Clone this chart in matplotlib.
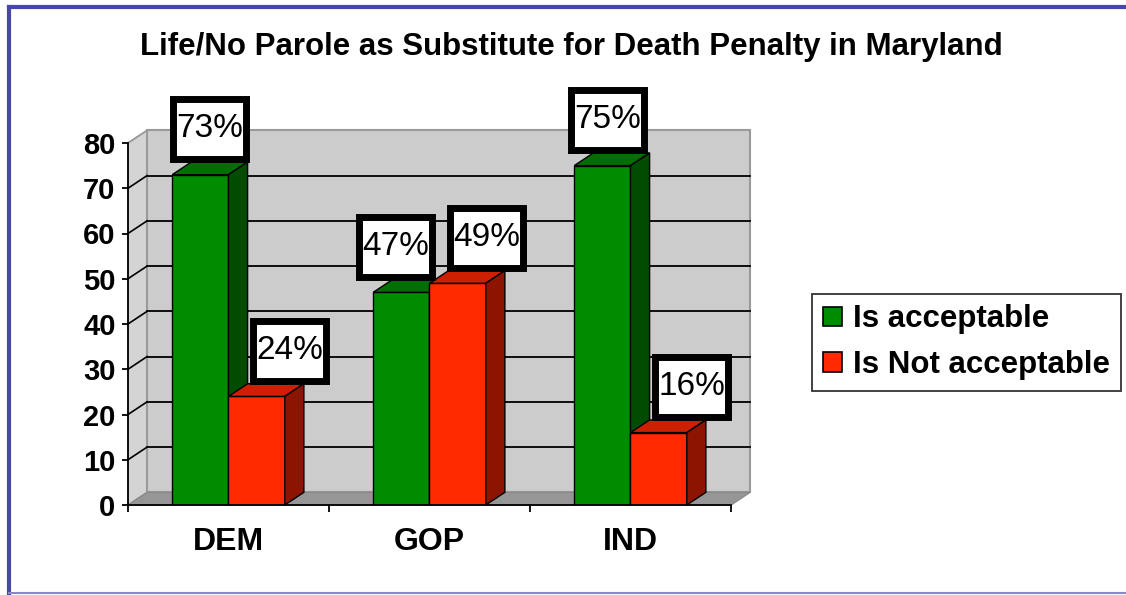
import numpy as np
import matplotlib
matplotlib.use("Agg")
import matplotlib.pyplot as plt
from matplotlib.patches import Polygon, Patch, Rectangle
from matplotlib.lines import Line2D
from matplotlib.transforms import ScaledTranslation

# data
categories = ["DEM", "GOP", "IND"]
acceptable = [73, 47, 75]
not_acceptable = [24, 49, 16]
series_names = ["Is acceptable", "Is Not acceptable"]
yticks = [0, 10, 20, 30, 40, 50, 60, 70, 80]

plt.rcParams['font.family'] = ['Liberation Sans', 'DejaVu Sans']

W, H = 1126, 595
fig = plt.figure(figsize=(W / 100, H / 100), dpi=100)
ax = fig.add_axes([128 / W, (H - 505) / H, 603 / W, 362 / H])
ax.set_xlim(-0.5, 2.5)
ax.set_ylim(0, 80)

# 3d depth offset (data units)
DX, DY = 0.095, 2.8
bw = 0.28

# colours: front, top, side
green = ("#008c00", "#006e00", "#004c00")
red = ("#ff2a00", "#cc2000", "#8c1400")

x = np.arange(len(categories))
x0, x1 = x[0] - 0.5, x[-1] + 0.5

# walls and floor
ax.add_patch(Polygon([(x0, 0), (x0 + DX, DY), (x0 + DX, 80 + DY), (x0, 80)],
                     closed=True, fc="#d4d4d4", ec="#9a9a9a", lw=1, zorder=0, clip_on=False))
ax.add_patch(Polygon([(x0 + DX, DY), (x1 + DX, DY), (x1 + DX, 80 + DY), (x0 + DX, 80 + DY)],
                     closed=True, fc="#cccccc", ec="#9a9a9a", lw=1.5, zorder=0, clip_on=False))
ax.add_patch(Polygon([(x0, 0), (x1, 0), (x1 + DX, DY), (x0 + DX, DY)],
                     closed=True, fc="#969696", ec="#8a8a8a", lw=1, zorder=0.5, clip_on=False))

# gridlines on back and side walls
for v in yticks[1:]:
    c = "#9a9a9a" if v == 80 else "black"
    if v < 80:
        ax.plot([x0 + DX, x1 + DX], [v + DY, v + DY], color="black", lw=1.3, zorder=0.6, clip_on=False)
    ax.plot([x0, x0 + DX], [v, v + DY], color=c, lw=1.2, zorder=0.6, clip_on=False)


def bar3d(xs, vals, cols):
    ax.bar(xs, vals, width=bw, align="edge", color=cols[0], edgecolor="black", lw=1, zorder=2)
    for xl, v in zip(xs, vals):
        ax.add_patch(Polygon([(xl, v), (xl + bw, v), (xl + bw + DX, v + DY), (xl + DX, v + DY)],
                             closed=True, fc=cols[1], ec="black", lw=1, zorder=2, clip_on=False))
        ax.add_patch(Polygon([(xl + bw, 0), (xl + bw + DX, DY), (xl + bw + DX, v + DY), (xl + bw, v)],
                             closed=True, fc=cols[2], ec="black", lw=1, zorder=2, clip_on=False))


# draw group by group, left to right, so later bars cover earlier side faces
for i in range(len(categories)):
    bar3d([x[i] - bw], [acceptable[i]], green)
    bar3d([x[i]], [not_acceptable[i]], red)

# value labels: white box with thick black border (box size in inches)
bx_w, bx_h = 0.73, 0.60
green_shift = [0, -11, -3]     # label nudges in points, like Excel's placement
red_shift = [17, 14, 17]


def value_box(xc, yc, txt, shift):
    tr = fig.dpi_scale_trans + ScaledTranslation(xc, yc, ax.transData) \
        + ScaledTranslation(shift / 72, 0, fig.dpi_scale_trans)
    ax.add_patch(Rectangle((-bx_w / 2, -bx_h / 2), bx_w, bx_h, transform=tr,
                           fc="white", ec="black", lw=5, joinstyle="miter", zorder=5, clip_on=False))
    ax.text(0, 0.01, txt, transform=tr, ha="center", va="center", fontsize=24, zorder=6, clip_on=False)


for i in range(len(categories)):
    value_box(x[i] - bw / 2 + DX / 2, acceptable[i] + 10, f"{acceptable[i]}%", green_shift[i])
    value_box(x[i] + bw / 2 + DX / 2, not_acceptable[i] + 10, f"{not_acceptable[i]}%", red_shift[i])

# axes styling
for s in ("top", "right"):
    ax.spines[s].set_visible(False)
ax.spines["left"].set_linewidth(1.3)
ax.spines["bottom"].set_linewidth(1.3)
ax.set_yticks(yticks)
ax.set_yticklabels([str(v) for v in yticks], fontsize=21, fontweight="bold")
ax.tick_params(axis="y", length=4, width=1.3, pad=5)
ax.set_xticks([x0, 0.5, 1.5, x1])
ax.set_xticklabels([])
ax.tick_params(axis="x", length=5, width=1.3)
ax.set_xticks(x, minor=True)
ax.set_xticklabels(categories, minor=True, fontsize=23, fontweight="bold")
ax.tick_params(axis="x", which="minor", length=0, pad=16)
ax.set_facecolor("none")

# title
fig.text(571 / W, 1 - 47 / H, "Life/No Parole as Substitute for Death Penalty in Maryland",
         ha="center", va="center", fontsize=22.5, fontweight="bold")

# legend
handles = [Patch(fc=green[0], ec="black", lw=1.2), Patch(fc=red[0], ec="black", lw=1.2)]
leg = fig.legend(handles, series_names, loc="lower left",
                 bbox_to_anchor=(812 / W, 1 - 391 / H), bbox_transform=fig.transFigure,
                 prop=dict(size=22.5, weight="bold"), frameon=True, fancybox=False,
                 handlelength=0.6, handleheight=0.6, handletextpad=0.35,
                 borderpad=0.35, labelspacing=0.5, borderaxespad=0)
leg.get_frame().set_edgecolor("black")
leg.get_frame().set_linewidth(1.3)

# outer frame
fig.add_artist(Line2D([9 / W, 9 / W], [1 - 7 / H, 1 - 593 / H], transform=fig.transFigure,
                      color="#4848a8", lw=3))
fig.add_artist(Line2D([9 / W, 1], [1 - 7 / H, 1 - 7 / H], transform=fig.transFigure,
                      color="#4848a8", lw=3))
fig.add_artist(Line2D([9 / W, 1], [1 - 593 / H, 1 - 593 / H], transform=fig.transFigure,
                      color="#8888c8", lw=1.5))

fig.savefig("out.png", dpi=100)
